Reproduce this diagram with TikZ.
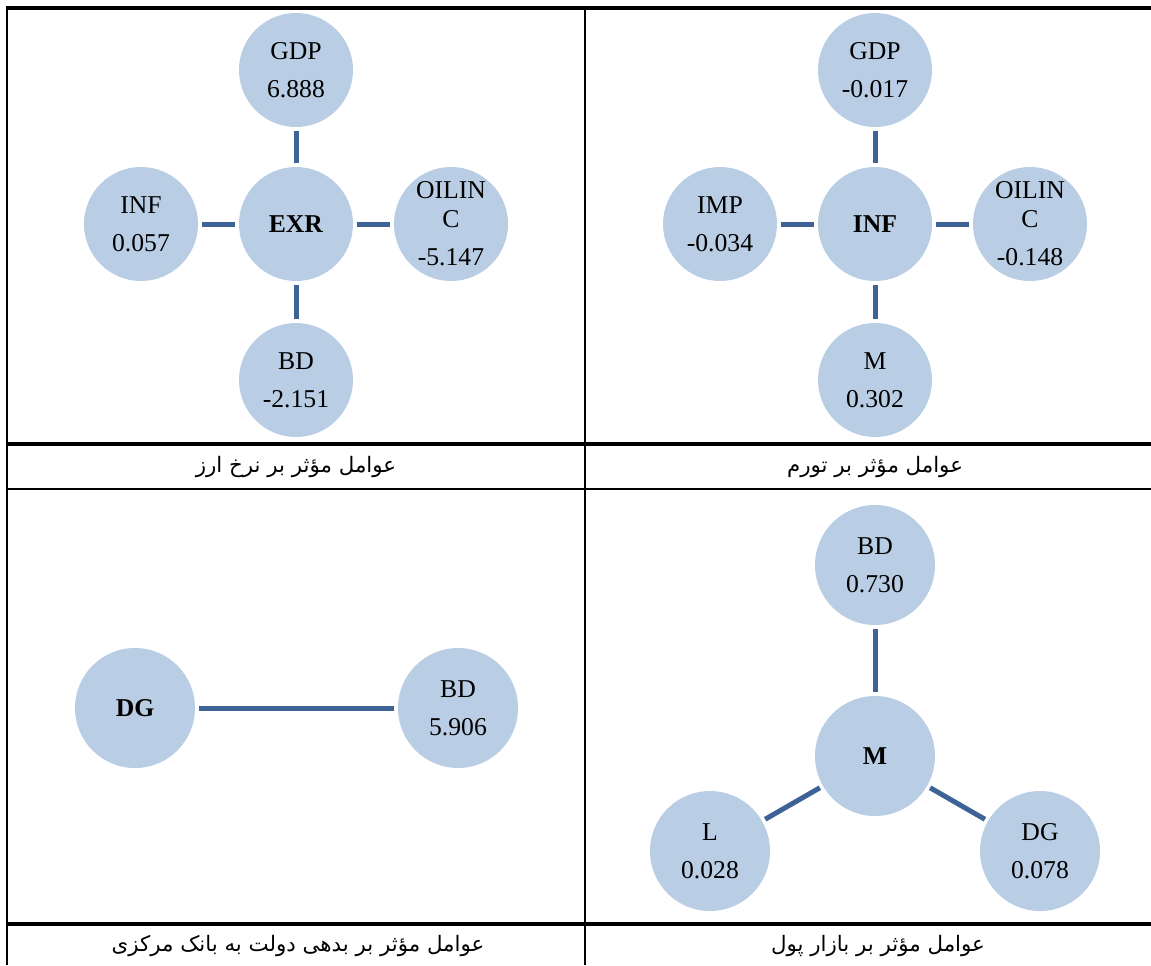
\documentclass[tikz,border=0pt]{standalone}
\usepackage{fontspec}
\setmainfont{Liberation Serif}
\newfontfamily\arabicfont[Script=Arabic]{DejaVu Sans}
\TeXXeTstate=1
\definecolor{bubfill}{HTML}{B9CDE5}
\definecolor{linkcol}{HTML}{3D6396}
\tikzset{
  bub/.style={circle, fill=bubfill, draw=none, minimum size=85.5pt, inner sep=0pt,
    align=center, font=\fontsize{19.25}{21.75}\selectfont},
  bubL/.style={bub, minimum size=90pt},
  link/.style={draw=linkcol, line width=3.75pt, shorten >=2.5pt, shorten <=2.5pt},
  heavyrule/.style={line width=2.3pt, black},
  lightrule/.style={line width=1.1pt, black},
  captxt/.style={font=\arabicfont\fontsize{16}{19}\selectfont, inner sep=0pt}
}
\begin{document}
\begin{tikzpicture}[x=0.75pt, y=-0.75pt]
\useasboundingbox (0,0) rectangle (1151,965);
% table rules
\draw[heavyrule] (6,8) -- (1151,8);
\draw[heavyrule] (6,444) -- (1151,444);
\draw[lightrule] (6,489) -- (1151,489);
\draw[heavyrule] (6,924) -- (1151,924);
\draw[line width=1.5pt] (6.5,8) -- (6.5,965);
\draw[lightrule] (585,8) -- (585,965);

% panel 1: exchange rate
\node[bub] (exr) at (296,224) {\textbf{EXR}};
\node[bub] (gdp1) at (296,70) {GDP\\[6.75pt]6.888};
\node[bub] (bd1) at (296,380) {BD\\[6.75pt]-2.151};
\node[bub] (inf1) at (141,224) {INF\\[6.75pt]0.057};
\node[bub] (oil1) at (451,224) {OILIN\\C\\[6.75pt]-5.147};
\draw[link] (gdp1) -- (exr);
\draw[link] (exr) -- (bd1);
\draw[link] (inf1) -- (exr);
\draw[link] (exr) -- (oil1);
\node[captxt] (cap1) at (296,467) {\beginR عوامل مؤثر بر نرخ ارز\endR};

% panel 2: inflation
\node[bub] (inf2) at (875,224) {\textbf{INF}};
\node[bub] (gdp2) at (875,70) {GDP\\[6.75pt]-0.017};
\node[bub] (m2) at (875,380) {M\\[6.75pt]0.302};
\node[bub] (imp2) at (720,224) {IMP\\[6.75pt]-0.034};
\node[bub] (oil2) at (1030,224) {OILIN\\C\\[6.75pt]-0.148};
\draw[link] (gdp2) -- (inf2);
\draw[link] (inf2) -- (m2);
\draw[link] (imp2) -- (inf2);
\draw[link] (inf2) -- (oil2);
\node[captxt] (cap2) at (875,467) {\beginR عوامل مؤثر بر تورم\endR};

% panel 3: government debt
\node[bubL] (dg3) at (135,708) {\textbf{DG}};
\node[bubL] (bd3) at (458,708) {BD\\[6.75pt]5.906};
\draw[link] (dg3) -- (bd3);
\node[captxt] (cap3) at (298,946) {\beginR عوامل مؤثر بر بدهی دولت به بانک مرکزی\endR};

% panel 4: money market
\node[bubL] (m4) at (875,756) {\textbf{M}};
\node[bubL] (bd4) at (875,565) {BD\\[6.75pt]0.730};
\node[bubL] (l4) at (710,851) {L\\[6.75pt]0.028};
\node[bubL] (dg4) at (1040,851) {DG\\[6.75pt]0.078};
\draw[link] (bd4) -- (m4);
\draw[link] (m4) -- (l4);
\draw[link] (m4) -- (dg4);
\node[captxt] (cap4) at (878,946) {\beginR عوامل مؤثر بر بازار پول\endR};
\end{tikzpicture}
\end{document}
